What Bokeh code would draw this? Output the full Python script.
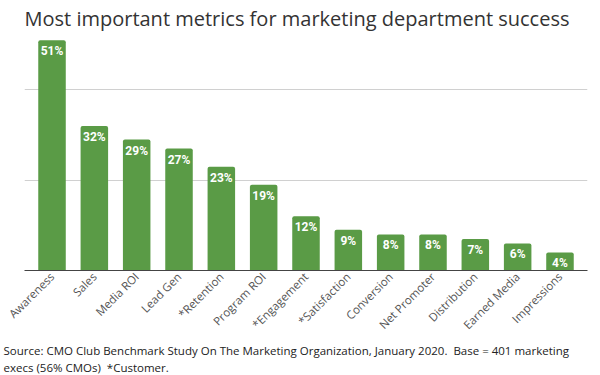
from bokeh.plotting import figure
from bokeh.models import Range1d, FixedTicker, Title, ColumnDataSource
from bokeh.core.properties import value
from bokeh.embed import file_html
from bokeh.resources import INLINE

categories = ["Awareness", "Sales", "Media ROI", "Lead Gen", "*Retention", "Program ROI",
              "*Engagement", "*Satisfaction", "Conversion", "Net Promoter", "Distribution",
              "Earned Media", "Impressions"]
values = [51, 32, 29, 27, 23, 19, 12, 9, 8, 8, 7, 6, 4]
value_labels = [f"{v}%" for v in values]
title_text = "Most important metrics for marketing department success"
source_line1 = "Source: CMO Club Benchmark Study On The Marketing Organization, January 2020.\u00a0 Base = 401 marketing"
source_line2 = "execs (56% CMOs)\u00a0 *Customer."

xs = list(range(len(categories)))
src = ColumnDataSource(dict(x=xs, top=values, lab=value_labels))

p = figure(width=600, height=375, output_backend="svg", toolbar_location=None,
           x_range=Range1d(-0.65, len(categories) - 0.35), y_range=Range1d(0, 52.5),
           min_border_left=24, min_border_right=13, min_border_top=30, min_border_bottom=105)
p.outline_line_color = None
p.background_fill_color = "white"
p.border_fill_color = "white"

p.vbar(x="x", top="top", width=0.65, source=src, fill_color="#5a9b46", line_color=None,
       border_radius=(2, 2, 0, 0))
p.text(x="x", y="top", text="lab", source=src, text_color="white", text_align="center",
       text_baseline="top", y_offset=4, text_font=value("Roboto"), text_font_size="12px",
       text_font_style="bold")

p.yaxis.visible = False
p.xgrid.visible = False
p.ygrid.ticker = FixedTicker(ticks=[20, 40])
p.ygrid.grid_line_color = "#d0d0d0"

ax = p.xaxis[0]
ax.ticker = FixedTicker(ticks=xs)
ax.major_label_overrides = {i: c for i, c in enumerate(categories)}
ax.major_label_orientation = 0.785398
ax.major_label_text_font = "Open Sans"
ax.major_label_text_font_size = "11.5px"
ax.major_label_text_color = "#555555"
ax.axis_line_color = "#444444"
ax.major_tick_line_color = None
ax.minor_tick_line_color = None
ax.major_tick_out = 0
ax.major_tick_in = 0
ax.major_label_standoff = 4

p.title.text = title_text
p.title.text_font = "Open Sans"
p.title.text_font_size = "20px"
p.title.text_font_style = "normal"
p.title.text_color = "#333333"
p.title.align = "left"
p.title.offset = 0
p.title.standoff = 4

for txt in [source_line1, source_line2]:
    p.add_layout(Title(text=txt, text_font="Open Sans", text_font_size="11.5px",
                       text_font_style="normal", text_color="#222222", align="left",
                       offset=-21, standoff=0), "below")

open("out.html", "w").write(file_html(p, INLINE))
